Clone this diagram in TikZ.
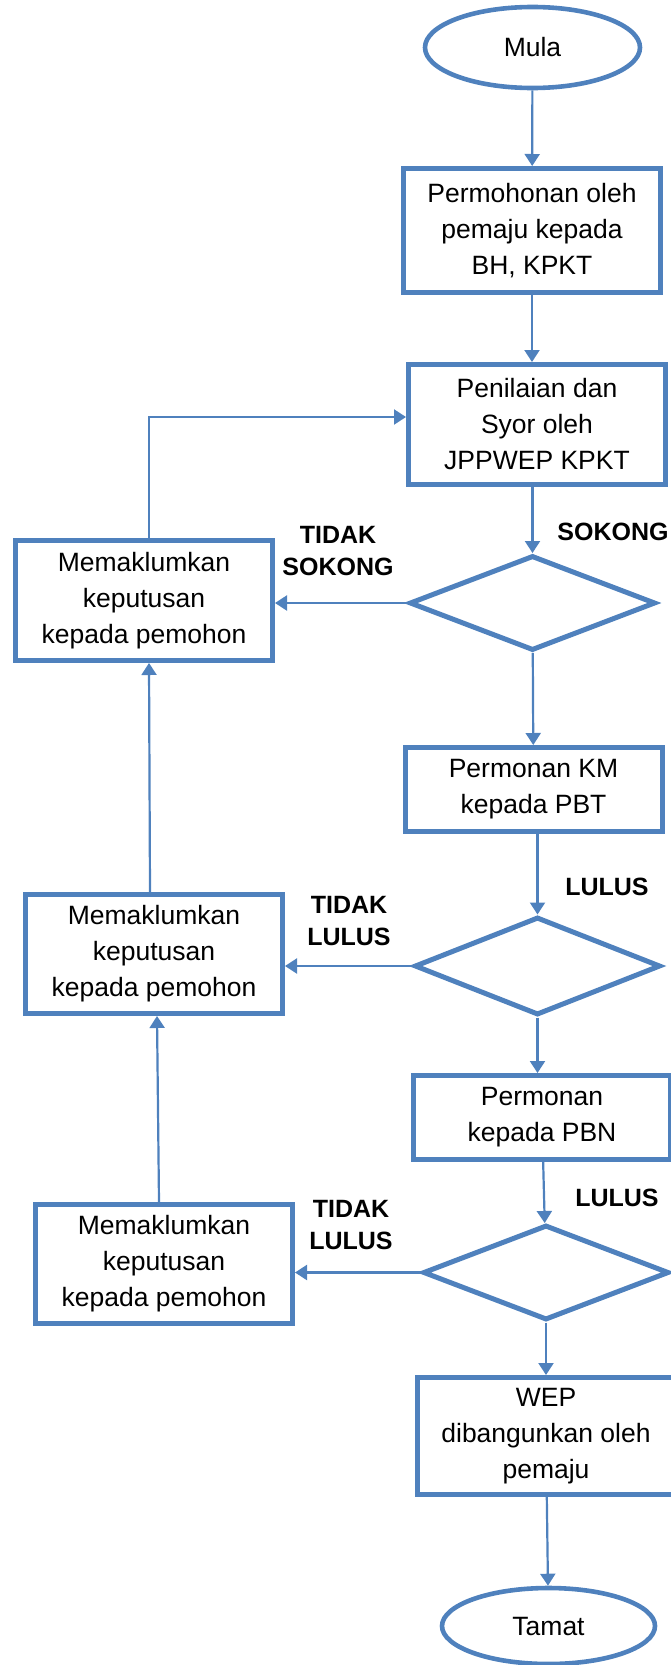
\documentclass[tikz,border=0pt]{standalone}
\usepackage{fontspec}
\setmainfont{Liberation Sans}
\usetikzlibrary{shapes.geometric,arrows.meta}
\definecolor{flowblue}{HTML}{4F81BD}

\begin{document}
\begin{tikzpicture}[x=1pt,y=-1pt,
  every node/.style={font=\fontsize{26.5}{36}\selectfont},
  k/.style={rectangle,draw=flowblue,line width=5pt,minimum width=257pt,align=center,inner sep=2pt},
  kt/.style={ellipse,draw=flowblue,line width=4.6pt,inner sep=0pt},
  kd/.style={diamond,draw=flowblue,line width=5pt,inner sep=0pt,minimum width=246pt,minimum height=95pt},
  kl/.style={font=\fontsize{25}{32}\selectfont\bfseries,align=center},
  ka/.style={draw=flowblue,line width=2.2pt,-{Triangle[length=12pt,width=15pt]}}]
  \useasboundingbox (0,0) rectangle (671,1665);

  \node[kt,minimum width=215pt,minimum height=81pt] (mula) at (532.5,47.5) {Mula};
  \node[k,minimum height=124pt] (mohon) at (532,230.5) {Permohonan oleh\\pemaju kepada\\BH, KPKT};
  \node[k,minimum height=120pt] (nilai) at (537,424.5) {Penilaian dan\\Syor oleh\\JPPWEP KPKT};
  \node[kd] (sokong) at (532.5,603) {};
  \node[k,minimum height=84pt] (pbt) at (533.5,789.5) {Permonan KM\\kepada PBT};
  \node[kd,minimum height=98pt] (lulus1) at (537.5,966) {};
  \node[k,minimum height=84pt] (pbn) at (542,1117.5) {Permonan\\kepada PBN};
  \node[kd] (lulus2) at (546,1272.5) {};
  \node[k,minimum height=117pt] (wep) at (546,1436) {WEP\\dibangunkan oleh\\pemaju};
  \node[kt,minimum width=213pt,minimum height=76pt] (tamat) at (548.5,1626) {Tamat};

  \node[k,minimum height=120pt] (mak1) at (144,600.5) {Memaklumkan\\keputusan\\kepada pemohon};
  \node[k,minimum height=119pt] (mak2) at (154,954) {Memaklumkan\\keputusan\\kepada pemohon};
  \node[k,minimum height=119pt] (mak3) at (164,1264) {Memaklumkan\\keputusan\\kepada pemohon};

  \node[kl] (tsokong) at (338,551) {TIDAK\\SOKONG};
  \node[kl] (ysokong) at (613,532) {SOKONG};
  \node[kl] (tlulus1) at (349,921) {TIDAK\\LULUS};
  \node[kl] (ylulus1) at (607,887) {LULUS};
  \node[kl] (tlulus2) at (351,1225) {TIDAK\\LULUS};
  \node[kl] (ylulus2) at (617,1198) {LULUS};

  \draw[ka] (mula) -- (mohon);
  \draw[ka] (mohon) -- (mohon |- nilai.north);
  \draw[ka] (sokong.north |- nilai.south) -- (sokong);
  \draw[ka] (sokong) -- (pbt);
  \draw[ka] (lulus1 |- pbt.south) -- (lulus1);
  \draw[ka] (lulus1) -- (lulus1 |- pbn.north);
  \draw[ka] (pbn) -- (lulus2);
  \draw[ka] (lulus2) -- (wep);
  \draw[ka] (wep) -- (tamat);

  \draw[ka] (sokong) -- (sokong -| mak1.east);
  \draw[ka] (lulus1) -- (lulus1 -| mak2.east);
  \draw[ka] (lulus2) -- (lulus2 -| mak3.east);

  \draw[ka] ([xshift=5pt]mak1.north) |- ([yshift=7.5pt]nilai.west);
  \draw[ka] ([xshift=-4pt]mak2.north) -- ([xshift=5pt]mak1.south);
  \draw[ka] ([xshift=-5pt]mak3.north) -- ([xshift=3pt]mak2.south);
\end{tikzpicture}
\end{document}
